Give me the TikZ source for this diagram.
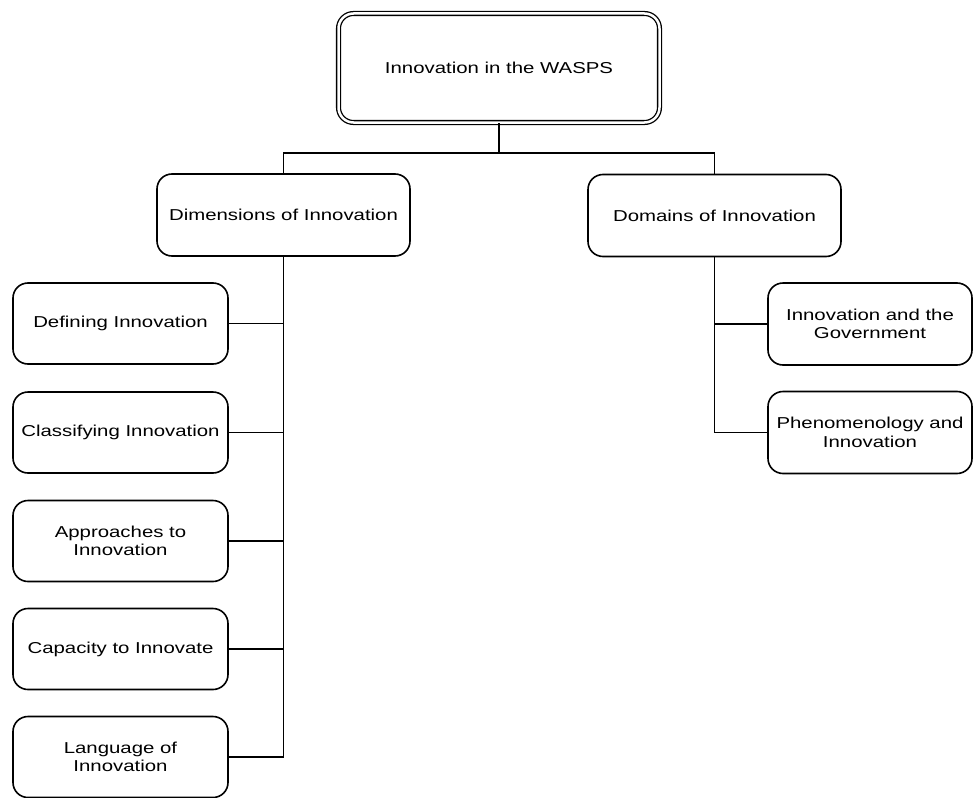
\documentclass[tikz,border=0pt]{standalone}
\usepackage{fontspec}
\setmainfont[FakeStretch=1.29]{Liberation Sans}
\begin{document}
\begin{tikzpicture}[x=1pt,y=-1pt,
  box/.style={draw, rounded corners=15pt, line width=1.6pt, align=center, inner sep=0pt,
    font=\fontsize{15.8}{18.5}\selectfont},
  leftbox/.style={box, minimum width=215pt, minimum height=81pt},
  midbox/.style={box, minimum width=253pt, minimum height=82pt},
  rightbox/.style={box, minimum width=204pt, minimum height=82pt},
  topbox/.style={box, double, double distance=2.5pt, line width=1.3pt, minimum width=321pt, minimum height=109pt},
  link/.style={draw, line width=1.4pt}]
\useasboundingbox (0,0) rectangle (973,797);
\node[topbox] (top) at (499,68) {Innovation in the WASPS};
\node[midbox] (dim) at (283.5,215) {Dimensions of Innovation};
\node[midbox] (dom) at (714.5,215.5) {Domains of Innovation};
\node[leftbox] (def) at (120.5,323.5) {Defining Innovation};
\node[leftbox] (cla) at (120.5,432.5) {Classifying Innovation};
\node[leftbox] (app) at (120.5,541) {Approaches to\\Innovation};
\node[leftbox] (cap) at (120.5,649) {Capacity to Innovate};
\node[leftbox] (lan) at (120.5,757) {Language of\\Innovation};
\node[rightbox] (gov) at (870,324) {Innovation and the\\Government};
\node[rightbox] (phe) at (870,432.5) {Phenomenology and\\Innovation};
\coordinate (j) at (499,153);
\draw[link] (top.south) -- (j);
\draw[link] (dim.north) |- (j) -| (dom.north);
\draw[link] (dim.south) |- (lan.east);
\draw[link] (def.east) -- (def.east -| dim.south);
\draw[link] (cla.east) -- (cla.east -| dim.south);
\draw[link] (app.east) -- (app.east -| dim.south);
\draw[link] (cap.east) -- (cap.east -| dim.south);
\draw[link] (dom.south) |- (phe.west);
\draw[link] (gov.west) -- (gov.west -| dom.south);
\end{tikzpicture}
\end{document}
